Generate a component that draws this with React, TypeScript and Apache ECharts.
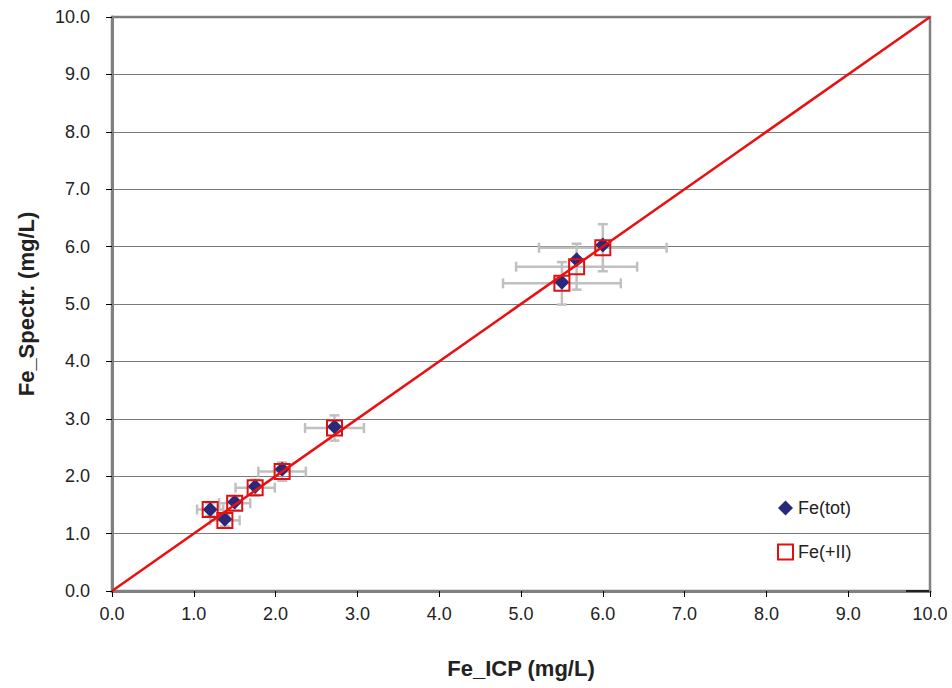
import React, { useEffect, useRef } from "react";
import * as echarts from "echarts";

const icpValues = [1.2, 1.38, 1.5, 1.75, 2.08, 2.72, 5.5, 5.68, 6.0];
const feTot = [1.42, 1.25, 1.55, 1.82, 2.12, 2.86, 5.38, 5.77, 6.03];
const feII = [1.42, 1.23, 1.53, 1.8, 2.08, 2.84, 5.36, 5.65, 5.98];
const xErr = [0.16, 0.18, 0.19, 0.24, 0.29, 0.36, 0.72, 0.74, 0.78];
const yErr = [0.11, 0.1, 0.12, 0.14, 0.16, 0.22, 0.37, 0.4, 0.41];
const lineX = [0, 10];

export default function App() {
  const ref = useRef<HTMLDivElement>(null);
  useEffect(() => {
    if (!ref.current) return;
    const chart = echarts.init(ref.current, undefined, { renderer: "svg" });
    const font = "Arial, 'Liberation Sans', sans-serif";
    const errData = icpValues.map((x, i) => [x, feII[i], xErr[i], yErr[i]]);
    chart.setOption({
      animation: false,
      backgroundColor: "#fff",
      grid: {
        left: 112,
        right: 22,
        top: 17,
        bottom: 97,
        show: true,
        borderColor: "#808080",
        borderWidth: 2.5,
      },
      legend: {
        orient: "vertical",
        left: 772,
        top: 494,
        itemGap: 26,
        itemWidth: 15,
        itemHeight: 15,
        textStyle: { fontFamily: font, fontSize: 18, color: "#222" },
        data: [
          { name: "Fe(tot)", icon: "diamond" },
          { name: "Fe(+II)", icon: "rect", itemStyle: { color: "#fff", borderColor: "#e01010", borderWidth: 2 } },
        ],
      },
      graphic: [
        {
          type: "line",
          shape: { x1: 906, y1: 591, x2: 929, y2: 591 },
          style: { stroke: "#000", lineWidth: 1.5 },
          z: 10,
        },
      ],
      xAxis: {
        type: "value",
        min: 0,
        max: 10,
        interval: 1,
        name: "Fe_ICP (mg/L)",
        nameLocation: "middle",
        nameGap: 66,
        nameTextStyle: { fontFamily: font, fontSize: 22, fontWeight: "bold", color: "#222" },
        axisLine: { show: true, lineStyle: { color: "#808080", width: 3 } },
        axisTick: { show: true, length: 6, lineStyle: { color: "#000", width: 1 } },
        axisLabel: {
          fontFamily: font,
          fontSize: 18,
          color: "#222",
          margin: 14,
          formatter: (v: number) => v.toFixed(1),
        },
        splitLine: { show: false },
      },
      yAxis: {
        type: "value",
        min: 0,
        max: 10,
        interval: 1,
        name: "Fe_Spectr. (mg/L)",
        nameLocation: "middle",
        nameGap: 75,
        nameTextStyle: { fontFamily: font, fontSize: 22, fontWeight: "bold", color: "#222" },
        axisLine: { show: true, lineStyle: { color: "#808080", width: 3 } },
        axisTick: { show: true, length: 6, lineStyle: { color: "#000", width: 1 } },
        axisLabel: {
          fontFamily: font,
          fontSize: 18,
          color: "#222",
          margin: 22,
          formatter: (v: number) => v.toFixed(1),
        },
        splitLine: { show: true, lineStyle: { color: "#7a7a7a", width: 1 } },
      },
      series: [
        {
          type: "custom",
          name: "err",
          z: 1,
          data: errData,
          renderItem: (params: any, api: any) => {
            const x = api.value(0);
            const y = api.value(1);
            const ex = api.value(2);
            const ey = api.value(3);
            const l = api.coord([x - ex, y]);
            const r = api.coord([x + ex, y]);
            const t = api.coord([x, y + ey]);
            const b = api.coord([x, y - ey]);
            const c = 5;
            const style = { stroke: "#c0c0c0", lineWidth: 2.5 };
            return {
              type: "group",
              children: [
                { type: "line", shape: { x1: l[0], y1: l[1], x2: r[0], y2: r[1] }, style },
                { type: "line", shape: { x1: l[0], y1: l[1] - c, x2: l[0], y2: l[1] + c }, style },
                { type: "line", shape: { x1: r[0], y1: r[1] - c, x2: r[0], y2: r[1] + c }, style },
                { type: "line", shape: { x1: t[0], y1: t[1], x2: b[0], y2: b[1] }, style },
                { type: "line", shape: { x1: t[0] - c, y1: t[1], x2: t[0] + c, y2: t[1] }, style },
                { type: "line", shape: { x1: b[0] - c, y1: b[1], x2: b[0] + c, y2: b[1] }, style },
              ],
            };
          },
        },
        {
          type: "scatter",
          name: "Fe(tot)",
          z: 3,
          symbol: "diamond",
          symbolSize: 15,
          itemStyle: { color: "#2a2878", opacity: 1 },
          data: icpValues.map((x, i) => [x, feTot[i]]),
        },
        {
          type: "scatter",
          name: "Fe(+II)",
          z: 4,
          symbol: "rect",
          symbolSize: 15,
          itemStyle: { color: "rgba(255,255,255,0)", borderColor: "#e01010", borderWidth: 2, opacity: 1 },
          data: icpValues.map((x, i) => [x, feII[i]]),
        },
        {
          type: "line",
          name: "1:1",
          z: 5,
          symbol: "none",
          lineStyle: { color: "#e81010", width: 2.5 },
          data: lineX.map((v) => [v, v]),
        },
      ],
    });
    return () => chart.dispose();
  }, []);
  return (
    <div
      ref={ref}
      style={{ position: "absolute", left: 0, top: 0, width: 952, height: 688 }}
    />
  );
}
